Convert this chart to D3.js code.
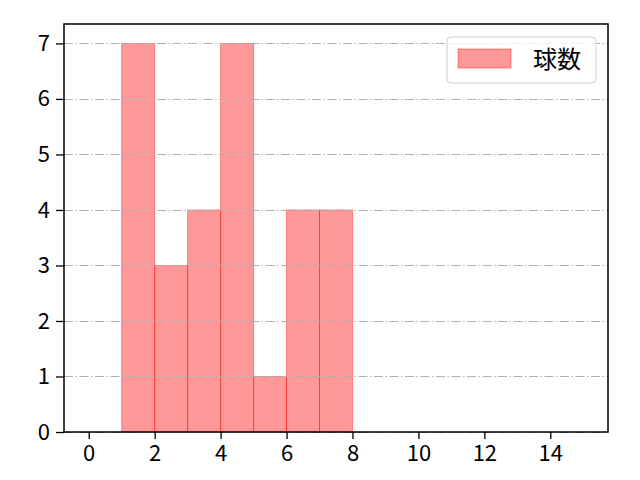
<!DOCTYPE html>
<html>
<head>
<meta charset="utf-8">
<script src="https://cdn.jsdelivr.net/npm/d3@7"></script>
<style>
  html, body { margin: 0; padding: 0; background: #fff; }
  svg { display: block; }
  text { font-family: "Noto Sans CJK JP", "Noto Sans", sans-serif; fill: #000; }
</style>
</head>
<body>
<div id="chart"></div>
<script>
// histogram bins (left edge, width 1) and counts
const binStarts = [1, 2, 3, 4, 5, 6, 7];
const counts = [7, 3, 4, 7, 1, 4, 4];
const xTicks = [0, 2, 4, 6, 8, 10, 12, 14];
const yTicks = [0, 1, 2, 3, 4, 5, 6, 7];
const seriesName = '球数';

const width = 640, height = 480;
const margin = { top: 24, right: 32, bottom: 48, left: 64 };

const svg = d3.select('#chart').append('svg')
  .attr('width', width)
  .attr('height', height);

const x = d3.scaleLinear().domain([-0.75, 15.75]).range([margin.left, width - margin.right]);
const y = d3.scaleLinear().domain([0, 7.35]).range([height - margin.bottom, margin.top]);

const barFill = 'rgba(255,0,0,0.4)';

// bars
svg.append('g')
  .selectAll('rect')
  .data(binStarts.map((s, i) => ({ s, v: counts[i] })))
  .join('rect')
  .attr('x', d => x(d.s))
  .attr('y', d => y(d.v))
  .attr('width', d => x(d.s + 1) - x(d.s))
  .attr('height', d => y(0) - y(d.v))
  .attr('fill', barFill)
  .attr('stroke', barFill)
  .attr('stroke-width', 1);

// horizontal grid (dash-dot, drawn above bars)
svg.append('g')
  .selectAll('line')
  .data(yTicks)
  .join('line')
  .attr('x1', margin.left)
  .attr('x2', width - margin.right)
  .attr('y1', d => Math.round(y(d)) + 0.5)
  .attr('y2', d => Math.round(y(d)) + 0.5)
  .attr('stroke', '#b0b0b0')
  .attr('stroke-width', 1)
  .attr('stroke-dasharray', '9,2.5,1.5,2.5');

// axes
const xAxis = svg.append('g')
  .attr('transform', `translate(0,${y(0)})`)
  .call(d3.axisBottom(x).tickValues(xTicks).tickSize(7).tickPadding(3).tickFormat(d3.format('d')));
const yAxis = svg.append('g')
  .attr('transform', `translate(${x(-0.75)},0)`)
  .call(d3.axisLeft(y).tickValues(yTicks).tickSize(8).tickPadding(6).tickFormat(d3.format('d')));

[xAxis, yAxis].forEach(a => {
  a.select('.domain').remove();
  a.selectAll('.tick line').attr('stroke', '#000').attr('stroke-width', 1.3);
  a.selectAll('.tick text').attr('font-size', 22).attr('fill', '#000')
    .style('font-family', '"Noto Sans CJK JP", sans-serif');
});
xAxis.selectAll('.tick text').attr('dy', '0.85em');

// frame
svg.append('rect')
  .attr('x', margin.left)
  .attr('y', margin.top)
  .attr('width', width - margin.left - margin.right)
  .attr('height', height - margin.top - margin.bottom)
  .attr('fill', 'none')
  .attr('stroke', '#000')
  .attr('stroke-width', 1.5);

// legend
const lg = svg.append('g').attr('transform', 'translate(447,37)');
lg.append('rect')
  .attr('width', 149).attr('height', 46)
  .attr('rx', 4)
  .attr('fill', 'rgba(255,255,255,0.8)')
  .attr('stroke', '#d0d0d0')
  .attr('stroke-width', 1);
lg.append('rect')
  .attr('x', 11).attr('y', 12)
  .attr('width', 53).attr('height', 19)
  .attr('fill', barFill)
  .attr('stroke', barFill);
lg.append('text')
  .attr('x', 86).attr('y', 23)
  .attr('dy', '0.35em')
  .attr('font-size', 24)
  .text(seriesName);
</script>
</body>
</html>
